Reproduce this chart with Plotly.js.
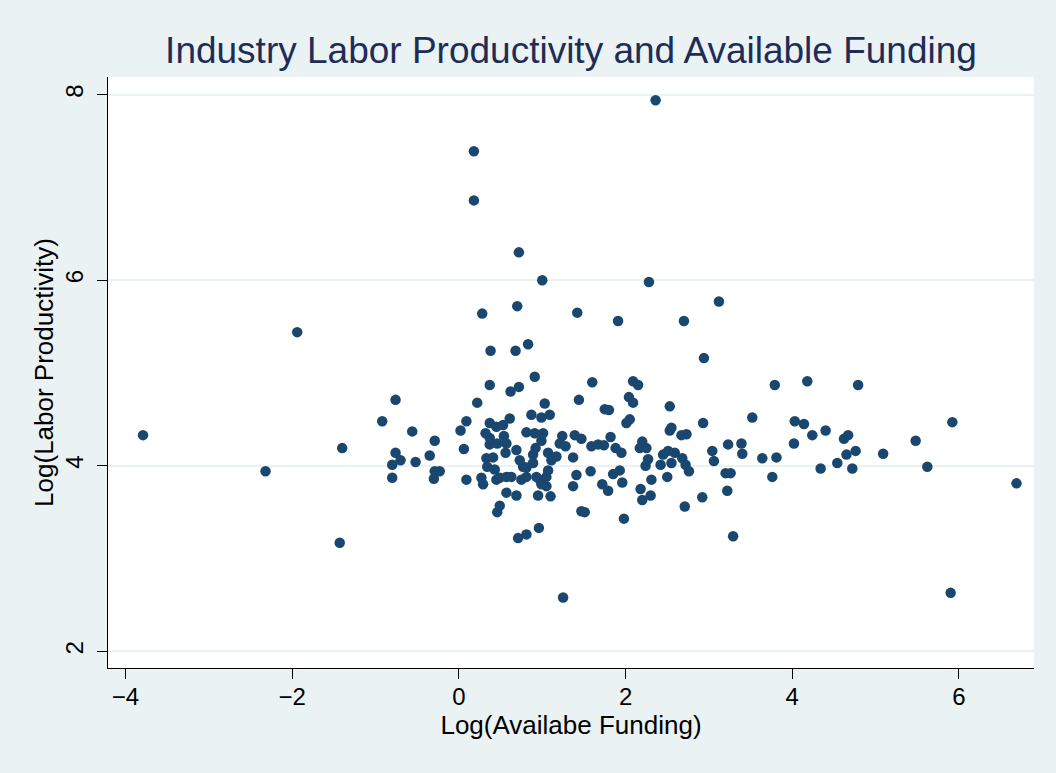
<!DOCTYPE html>
<html>
<head>
<meta charset="utf-8">
<script src="https://cdn.plot.ly/plotly-3.0.1.min.js"></script>
<style>html,body{margin:0;padding:0;background:#eaf2f3;}#chart{width:1056px;height:773px;}</style>
</head>
<body>
<div id="chart"></div>
<script>
// Log(Available Funding)
const logFunding = [
  -3.79, -2.32, -1.94, -1.40, -1.43, -0.92, -0.76, -0.56, -0.29, -0.76, -0.70, -0.80, -0.52, -0.35, -0.80, -0.29, -0.23, -0.30,
  2.36, 0.18, 0.18, 0.72, 1.00, 2.28, 3.12, 0.70, 0.28, 1.42, 1.91, 2.70, 0.83, 0.38, 0.68, 2.94, 0.91,
  0.37, 0.62, 0.72, 1.60, 2.09, 2.15, 1.44, 2.04, 2.09, 3.79, 4.18, 4.79, 0.22, 1.03, 0.09, 0.02, 0.06, 0.09,
  0.32, 0.37, 0.45, 0.53, 0.61, 0.54, 0.57, 0.37, 0.46, 0.56, 0.69, 0.81, 0.87, 0.99, 1.09, 0.91, 1.01, 0.99,
  0.92, 0.89, 1.07, 1.11, 1.17, 1.24, 1.21, 1.28, 1.37, 1.39, 0.33, 0.41, 0.34, 0.43, 0.49, 0.57, 0.63, 0.73,
  0.77, 0.81, 0.75, 0.81, 0.93, 0.97, 1.05, 1.07, 0.99, 1.05, 1.10, 0.95, 0.57, 0.69, 0.49, 0.46, 0.96, 0.81,
  0.71, 0.27, 0.29, 0.45, 1.37, 1.41, 0.89, 0.37, 1.25,
  1.75, 1.80, 2.53, 2.05, 2.01, 2.53, 2.55, 2.67, 2.73, 1.47, 1.59, 1.67, 1.74, 1.82, 1.88, 1.95, 2.20, 2.17,
  2.25, 2.45, 2.51, 2.59, 2.68, 1.58, 1.85, 1.93, 1.96, 1.72, 1.79, 2.27, 2.24, 2.42, 2.55, 2.72, 2.76, 2.50,
  2.31, 2.18, 2.20, 2.30, 2.71, 1.47, 1.51, 1.98,
  2.93, 3.52, 4.03, 4.14, 4.24, 4.40, 4.02, 4.62, 4.67, 3.23, 3.39, 3.40, 3.04, 3.06, 3.64, 3.81, 3.20, 3.26,
  3.22, 2.92, 3.29, 3.76, 4.34, 4.54, 4.65, 4.76, 4.72, 5.09, 5.48, 5.62, 5.92, 6.69, 5.90
];
// Log(Labor Productivity)
const logProductivity = [
  4.33, 3.94, 5.44, 4.19, 3.17, 4.48, 4.71, 4.37, 4.27, 4.14, 4.06, 4.01, 4.04, 4.11, 3.87, 3.94, 3.94, 3.86,
  7.94, 7.39, 6.86, 6.30, 6.00, 5.98, 5.77, 5.72, 5.64, 5.65, 5.56, 5.56, 5.31, 5.24, 5.24, 5.16, 4.96,
  4.87, 4.80, 4.85, 4.90, 4.91, 4.87, 4.71, 4.74, 4.68, 4.87, 4.91, 4.87, 4.68, 4.67, 4.48, 4.38, 4.18, 3.85,
  4.35, 4.46, 4.42, 4.44, 4.51, 4.32, 4.24, 4.23, 4.24, 4.14, 4.17, 4.36, 4.55, 4.52, 4.55, 4.35, 4.35, 4.27,
  4.19, 4.12, 4.14, 4.06, 4.10, 4.32, 4.24, 4.21, 4.09, 4.33, 4.08, 4.09, 3.99, 3.96, 3.87, 3.88, 3.88, 4.06,
  3.99, 3.98, 3.85, 3.88, 3.88, 3.85, 3.88, 3.95, 3.80, 3.78, 3.67, 3.68, 3.71, 3.68, 3.57, 3.50, 3.33, 3.26,
  3.22, 3.87, 3.80, 3.85, 3.78, 3.90, 4.03, 4.30, 2.58,
  4.61, 4.60, 4.64, 4.50, 4.46, 4.38, 4.41, 4.33, 4.34, 4.29, 4.21, 4.23, 4.22, 4.31, 4.19, 4.14, 4.26, 4.19,
  4.19, 4.12, 4.16, 4.14, 4.08, 3.94, 3.91, 3.95, 3.82, 3.80, 3.73, 4.07, 4.00, 4.01, 4.03, 4.01, 3.94, 3.88,
  3.85, 3.75, 3.63, 3.68, 3.56, 3.51, 3.50, 3.43,
  4.46, 4.52, 4.48, 4.45, 4.33, 4.38, 4.24, 4.29, 4.33, 4.23, 4.24, 4.13, 4.16, 4.05, 4.08, 4.09, 3.92, 3.92,
  3.73, 3.66, 3.24, 3.88, 3.97, 4.03, 4.12, 4.16, 3.97, 4.13, 4.27, 3.99, 4.47, 3.81, 2.63
];
const xTicks = [-4, -2, 0, 2, 4, 6];
const yTicks = [2, 4, 6, 8];
const chartTitle = 'Industry Labor Productivity and Available Funding';
const xTitle = 'Log(Availabe Funding)';
const yTitle = 'Log(Labor Productivity)';

const trace = {
  x: logFunding,
  y: logProductivity,
  type: 'scatter',
  mode: 'markers',
  marker: {color: '#1a476f', size: 10.5, line: {width: 0}},
  hoverinfo: 'x+y'
};

const fontFam = 'Liberation Sans, Arial, Helvetica, sans-serif';
const layout = {
  width: 1056,
  height: 773,
  paper_bgcolor: '#eaf2f3',
  plot_bgcolor: '#ffffff',
  margin: {l: 108, r: 22, t: 77, b: 105},
  showlegend: false,
  font: {family: fontFam, color: '#000000'},
  title: {
    text: chartTitle,
    font: {family: fontFam, size: 37, color: '#1e2d57'},
    x: 0.5, xref: 'paper', xanchor: 'center',
    y: 0.935, yref: 'container', yanchor: 'middle'
  },
  xaxis: {
    range: [-4.21, 6.90],
    tickvals: xTicks,
    ticktext: xTicks.map(v => v < 0 ? '\u2212' + Math.abs(v) : String(v)),
    ticks: 'outside', ticklen: 10, tickwidth: 1, tickcolor: '#000',
    ticklabelstandoff: -3,
    tickfont: {size: 24, family: fontFam, color: '#000'},
    showline: true, linecolor: '#000', linewidth: 1,
    showgrid: false, zeroline: false,
    automargin: false,
    title: {text: xTitle, font: {size: 26, family: fontFam, color: '#000'}, standoff: 0}
  },
  yaxis: {
    range: [1.82, 8.19],
    tickvals: yTicks,
    ticktext: yTicks.map(String),
    tickangle: -90,
    ticks: 'outside', ticklen: 10, tickwidth: 1, tickcolor: '#000',
    ticklabelstandoff: 4,
    tickfont: {size: 24, family: fontFam, color: '#000'},
    showline: true, linecolor: '#000', linewidth: 1,
    showgrid: true, gridcolor: '#eaf2f3', gridwidth: 2,
    zeroline: false,
    automargin: false,
    title: {text: yTitle, font: {size: 26, family: fontFam, color: '#000'}, standoff: 0}
  }
};

Plotly.newPlot('chart', [trace], layout, {displayModeBar: false, staticPlot: true});
</script>
</body>
</html>
